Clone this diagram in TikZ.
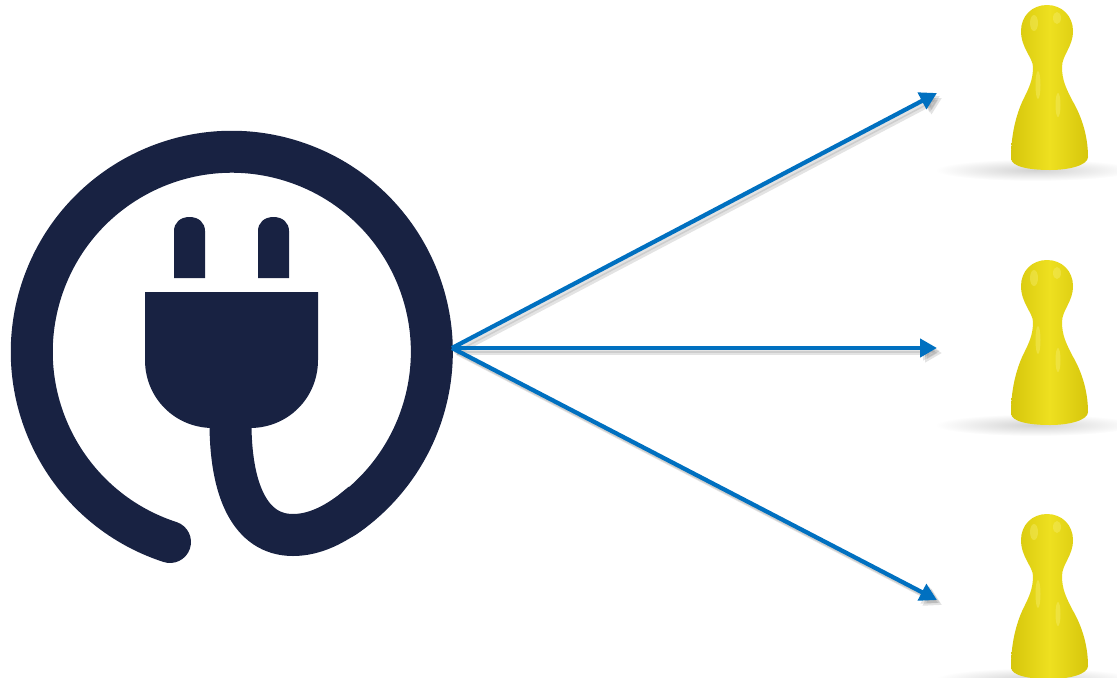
\documentclass[tikz,border=0pt]{standalone}
\usepackage{tikz}
\usetikzlibrary{arrows.meta, positioning, calc}
\definecolor{plugnavy}{HTML}{182242}
\definecolor{wireblue}{HTML}{0070C0}
\definecolor{pawnmid}{HTML}{EEE020}
\definecolor{pawnedge}{HTML}{D6C60C}
\definecolor{pawnlight}{HTML}{F6EE70}
\tikzset{
    wire/.style={-{Triangle[length=0.34cm, width=0.36cm]}, draw=wireblue, line width=0.085cm},
    wireshade/.style={wire, draw=gray, opacity=0.22, transform canvas={shift={(#1,#1)}}},
    cable/.style={draw=plugnavy, line width=0.84cm},
    pawnshine/.style={fill=pawnlight, draw=none, opacity=0.4},
    pawn/.pic={
        % Floor shadow
        \shade[inner color=gray!35, outer color=white] (1035, 170) ellipse (100 and 11);
        % Body
        \shade[left color=pawnedge, right color=pawnedge, middle color=pawnmid]
            (1047, 5) .. controls (1062, 5) and (1073, 16) .. (1073, 31)
            .. controls (1073, 47) and (1062, 55) .. (1062, 67)
            .. controls (1062, 80) and (1066, 88) .. (1072, 100)
            .. controls (1081, 115) and (1088, 135) .. (1088, 157)
            .. controls (1088, 165) and (1070, 170) .. (1050, 170)
            .. controls (1030, 170) and (1011, 167) .. (1011, 158)
            .. controls (1011, 135) and (1016, 115) .. (1023, 100)
            .. controls (1029, 88) and (1033, 80) .. (1033, 67)
            .. controls (1033, 58) and (1021, 48) .. (1021, 31)
            .. controls (1021, 16) and (1032, 5) .. (1047, 5) -- cycle;
        % Highlights
        \fill[pawnshine] (1034, 23) ellipse (4 and 8);
        \fill[pawnshine] (1057, 18) ellipse (4 and 6);
        \fill[pawnshine] (1038, 85) ellipse (2.5 and 14);
        \fill[pawnshine] (1058, 105) ellipse (2.5 and 12);
    }
}

\begin{document}
\begin{tikzpicture}[x=0.02cm, y=-0.02cm]
    \useasboundingbox (0, 0) rectangle (1117, 677);

    % Ring
    \draw[cable, line cap=round] (170, 542) arc[start angle=108, end angle=416, radius=200];

    % Cord
    \draw[cable] (230.5, 420) .. controls (230, 490) and (250, 535) .. (293, 535)
        .. controls (315, 535) and (335, 524) .. (351, 512) -- (362, 503);

    % Head
    \fill[plugnavy] (145, 292) -- (318, 292) -- (318, 360)
        .. controls (318, 398) and (288, 428) .. (250, 428) -- (213, 428)
        .. controls (175, 428) and (145, 398) .. (145, 360) -- cycle;

    % Prongs
    \fill[plugnavy] (174, 278) -- (174, 231) .. controls (174, 223) and (180, 217) .. (189.5, 217)
        .. controls (199, 217) and (205, 223) .. (205, 231) -- (205, 278) -- cycle;
    \fill[plugnavy] (258, 278) -- (258, 231) .. controls (258, 223) and (264, 217) .. (273.5, 217)
        .. controls (283, 217) and (289, 223) .. (289, 231) -- (289, 278) -- cycle;

    % Pawns
    \pic at (0, 0) {pawn};
    \pic at (0, 255) {pawn};
    \pic at (0, 509) {pawn};

    % Arrows
    \coordinate (hub) at (452, 348);
    \coordinate (topend) at (937, 93);
    \coordinate (midend) at (937, 348);
    \coordinate (lowend) at (937, 600);
    \draw[wireshade=3] (hub) -- (topend);
    \draw[wireshade=3] (hub) -- (midend);
    \draw[wireshade=3] (hub) -- (lowend);
    \draw[wireshade=5] (hub) -- (topend);
    \draw[wireshade=5] (hub) -- (midend);
    \draw[wireshade=5] (hub) -- (lowend);
    \draw[wire] (hub) -- (topend);
    \draw[wire] (hub) -- (midend);
    \draw[wire] (hub) -- (lowend);
\end{tikzpicture}
\end{document}
